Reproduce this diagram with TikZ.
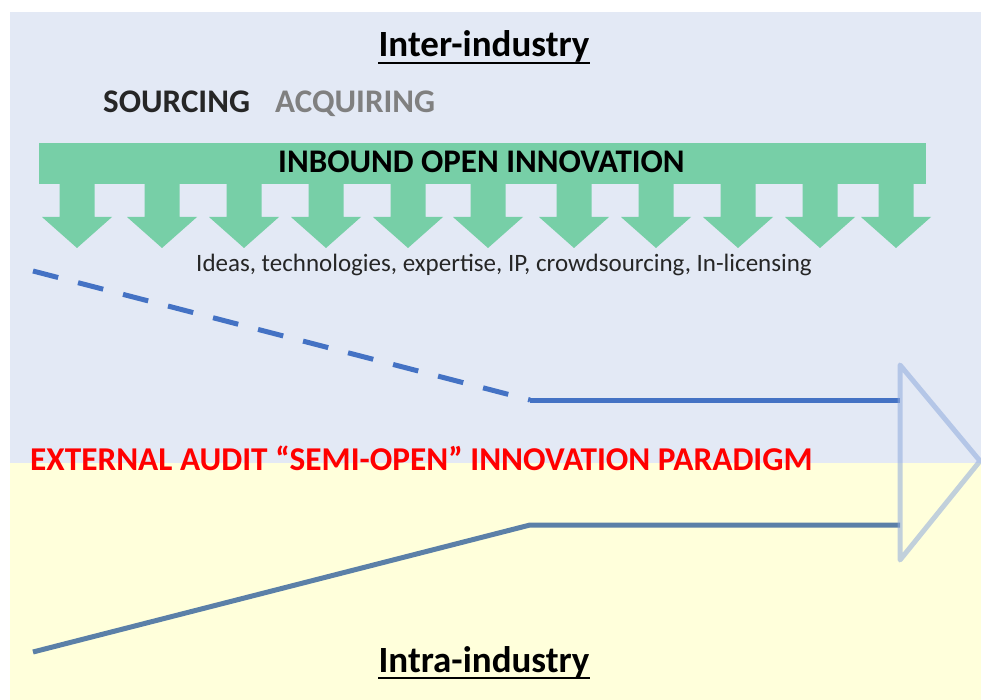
\documentclass[tikz,border=0pt]{standalone}
\usepackage{fontspec}
\setmainfont{Carlito}
\usetikzlibrary{calc}
\definecolor{bgblue}{HTML}{E3E9F5}
\definecolor{bgyellow}{HTML}{FFFFDB}
\definecolor{arrgreen}{HTML}{77CFA7}
\definecolor{lineblue}{HTML}{4472C4}
\definecolor{linesteel}{HTML}{5B80A8}
\definecolor{triblue}{HTML}{8FAADC}
\definecolor{acqgray}{HTML}{808080}
\definecolor{txtdark}{HTML}{262626}
\tikzset{
  px/.style={x=1pt,y=-1pt},
  title/.style={font=\bfseries\fontsize{37}{40}\selectfont, text=black, inner sep=0pt, anchor=base},
  caps/.style={font=\bfseries\fontsize{33}{36}\selectfont, inner sep=0pt, anchor=base west},
  small/.style={font=\fontsize{25}{28}\selectfont, text=txtdark, inner sep=0pt, anchor=base west},
  redcap/.style={font=\bfseries\fontsize{33.3}{36}\selectfont, text=red, inner sep=0pt, anchor=base west},
  thickline/.style={line width=5pt},
  downarrow/.style={fill=arrgreen},
  uline/.style={line width=2.5pt, black}
}
\begin{document}
\begin{tikzpicture}[px]
\useasboundingbox (0,0) rectangle (981,700);
\fill[white] (0,0) rectangle (981,700);
\fill[bgblue] (10,12) rectangle (981,463);
\fill[bgyellow] (10,463) rectangle (981,700);
% banner
\fill[arrgreen] (39,143) rectangle (926,184);
\foreach \c in {77,162,244,326,408,488,574,656,738,820,896}{
  \fill[downarrow] (\c-17.5,183) -- (\c+17.5,183) -- (\c+17.5,217) -- (\c+35,217)
    -- (\c,248) -- (\c-35,217) -- (\c-17.5,217) -- cycle;
}
% texts
\node[title] (inter) at (484,57) {Inter-industry};
\draw[uline] ($(inter.base west)+(0,6)$) coordinate (iu1) -- ($(inter.base east)+(0,6)$) coordinate (iu2);
\node[caps, text=txtdark] (sourcing) at (103,113) {SOURCING};
\node[caps, text=acqgray] (acquiring) at (275,113) {ACQUIRING};
\node[caps, text=black] (inbound) at (278,173) {INBOUND OPEN INNOVATION};
\node[small] (ideas) at (196,272) {Ideas, technologies, expertise, IP, crowdsourcing, In-licensing};
\node[redcap] (semi) at (30,470) {EXTERNAL AUDIT “SEMI-OPEN” INNOVATION PARADIGM};
\node[title] (intra) at (484,672) {Intra-industry};
\draw[uline] ($(intra.base west)+(0,6)$) coordinate (ju1) -- ($(intra.base east)+(0,6)$) coordinate (ju2);
% lines
\coordinate (u0) at (33,271);
\coordinate (u1) at (530,400);
\coordinate (u2) at (900,400);
\coordinate (l0) at (33,652);
\coordinate (l1) at (530,525);
\coordinate (l2) at (900,525);
\draw[lineblue, thickline, dash pattern=on 26pt off 20.5pt] (u0) -- (u1);
\draw[lineblue, thickline] (u1) -- (u2);
\draw[linesteel, thickline] (l0) -- (l1) -- (l2);
% triangle
\coordinate (t1) at (900,365);
\coordinate (t2) at (980,461);
\coordinate (t3) at (900,560);
\draw[triblue, line width=5pt, opacity=0.55, line join=round] (t1) -- (t2) -- (t3) -- cycle;
\end{tikzpicture}
\end{document}
